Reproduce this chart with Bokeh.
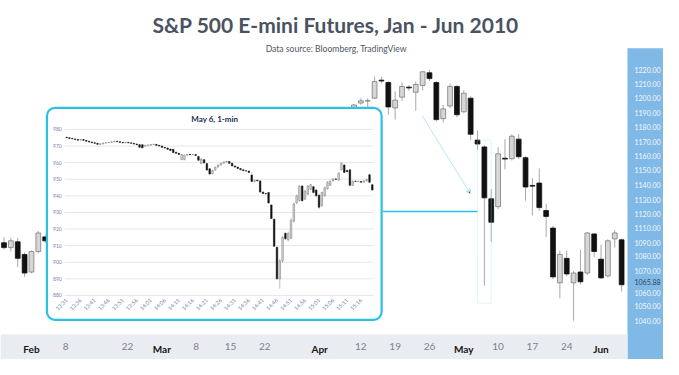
import math
import numpy as np
from bokeh.plotting import figure
from bokeh.models import (Range1d, LinearAxis, FixedTicker, BoxAnnotation, Arrow,
                          VeeHead, Label, ColumnDataSource)
from bokeh.embed import file_html
from bokeh.resources import INLINE

# ---------------- data: daily S&P 500 E-mini candles ----------------
dates = ["2010-01-26", "2010-01-27", "2010-01-28", "2010-01-29", "2010-02-01", "2010-02-02",
         "2010-02-03",
         "2010-04-09", "2010-04-12", "2010-04-13", "2010-04-14", "2010-04-15", "2010-04-16",
         "2010-04-19", "2010-04-20", "2010-04-21", "2010-04-22", "2010-04-23", "2010-04-26",
         "2010-04-27", "2010-04-28", "2010-04-29", "2010-04-30", "2010-05-03", "2010-05-04",
         "2010-05-05", "2010-05-06", "2010-05-07", "2010-05-10", "2010-05-11", "2010-05-12",
         "2010-05-13", "2010-05-14", "2010-05-17", "2010-05-18", "2010-05-19", "2010-05-20",
         "2010-05-21", "2010-05-24", "2010-05-25", "2010-05-26", "2010-05-27", "2010-05-28",
         "2010-06-01", "2010-06-02", "2010-06-03", "2010-06-04"]
opens = [1096.0, 1092.5, 1096.7, 1087.6, 1075.0, 1089.7, 1100.2,
         1192.7, 1196.2, 1197.6, 1199.7, 1212.6, 1210.9,
         1192.7, 1200.4, 1207.6, 1203.9, 1208.8, 1217.9,
         1210.9, 1185.0, 1194.1, 1208.1, 1189.9, 1199.7,
         1169.6, 1164.7, 1127.5, 1121.9, 1156.6, 1156.3,
         1170.3, 1157.0, 1137.1, 1138.8, 1119.1, 1106.5,
         1067.3, 1084.8, 1067.3, 1075.0, 1074.3, 1102.3,
         1084.2, 1072.2, 1098.8, 1098.1]
highs = [1100.0, 1099.5, 1099.5, 1089.0, 1090.4, 1104.4, 1101.5,
         1195.5, 1199.7, 1199.7, 1215.1, 1215.1, 1212.0,
         1204.6, 1210.9, 1209.0, 1211.6, 1219.3, 1220.0,
         1212.0, 1194.8, 1210.2, 1209.0, 1205.3, 1201.0,
         1176.6, 1166.0, 1134.5, 1164.7, 1170.3, 1173.8,
         1173.8, 1158.0, 1142.3, 1149.3, 1124.0, 1108.0,
         1090.4, 1090.4, 1075.7, 1091.1, 1103.7, 1103.0,
         1094.6, 1098.5, 1105.1, 1099.0]
lows = [1091.0, 1089.7, 1078.5, 1071.5, 1074.0, 1088.3, 1096.0,
        1190.0, 1195.0, 1192.7, 1199.0, 1210.2, 1187.8,
        1184.3, 1197.6, 1205.0, 1190.6, 1205.3, 1212.0,
        1183.0, 1182.2, 1192.7, 1186.0, 1189.2, 1169.6,
        1162.6, 1065.2, 1096.7, 1120.0, 1148.6, 1155.0,
        1156.0, 1126.1, 1115.6, 1119.0, 1100.2, 1070.0,
        1056.1, 1072.0, 1040.0, 1066.0, 1073.0, 1085.5,
        1070.0, 1071.0, 1092.5, 1061.0]
closes = [1092.5, 1097.4, 1084.8, 1074.3, 1089.7, 1103.0, 1097.4,
          1194.8, 1197.8, 1197.9, 1211.6, 1212.0, 1193.4,
          1198.3, 1208.1, 1207.0, 1209.5, 1218.6, 1213.7,
          1184.3, 1192.0, 1208.1, 1187.8, 1203.2, 1173.8,
          1166.8, 1128.2, 1110.7, 1159.8, 1156.0, 1172.4,
          1157.7, 1136.0, 1136.6, 1121.2, 1114.9, 1071.5,
          1087.6, 1073.6, 1074.3, 1068.0, 1103.0, 1089.7,
          1070.8, 1097.4, 1103.0, 1065.88]
holidays = ["2010-02-15", "2010-04-02", "2010-05-31"]

month_tick_dates = ["2010-02-01", "2010-03-01", "2010-04-01", "2010-05-03", "2010-06-01"]
month_tick_labels = ["Feb", "Mar", "Apr", "May", "Jun"]
day_tick_dates = ["2010-02-08", "2010-02-22", "2010-03-08", "2010-03-15", "2010-03-22",
                  "2010-04-12", "2010-04-19", "2010-04-26", "2010-05-10", "2010-05-17",
                  "2010-05-24"]
day_tick_labels = ["8", "22", "8", "15", "22", "12", "19", "26", "10", "17", "24"]

price_tick_labels = ["1220.00", "1210.00", "1200.00", "1190.00", "1180.00", "1170.00",
                     "1160.00", "1150.00", "1140.00", "1130.00", "1120.00", "1110.00",
                     "1090.00", "1080.00", "1070.00", "1060.00", "1050.00", "1040.00"]
last_price_label = "1065.88"

# ---------------- data: May 6, 1-minute candles (inset) ----------------
inset_open = [975.3, 975.0, 974.6, 974.3, 973.9, 973.6, 973.9, 973.4, 972.9, 972.4,
              972.0, 971.6, 971.0, 971.3, 971.8, 972.0, 972.2, 972.5, 972.9, 972.6,
              972.2, 971.9, 972.2, 971.9, 971.6, 971.2, 970.8, 970.8, 969.9, 970.4,
              970.5, 970.9, 971.0, 970.4, 970.0, 969.2, 968.8, 968.2, 968.0, 966.3,
              965.6, 961.8, 961.8, 964.5, 965.0, 964.8, 964.9, 963.7, 959.4, 961.8,
              959.4, 956.3, 953.3, 955.5, 957.3, 958.6, 959.6, 960.4, 960.6, 959.6,
              958.0, 957.3, 956.5, 955.7, 955.1, 954.9, 952.5, 948.6, 949.4, 949.0,
              942.3, 941.4, 942.0, 934.5, 925.9, 909.0, 890.0, 900.8, 917.4, 913.5,
              914.5, 924.7, 935.7, 937.1, 945.9, 938.0, 941.0, 943.9, 945.5, 943.5,
              940.4, 934.1, 940.0, 944.3, 946.3, 949.0, 950.2, 949.4, 955.7, 958.6,
              955.3, 955.7, 946.3, 948.8, 948.6, 948.6, 948.2, 949.0, 952.7, 946.7]
inset_high = [975.5, 975.2, 974.8, 974.5, 974.1, 974.1, 974.1, 973.6, 973.1, 972.6,
              972.2, 971.8, 971.5, 972.0, 972.2, 972.4, 972.7, 973.1, 973.1, 972.8,
              972.4, 972.4, 972.4, 972.1, 971.8, 971.4, 971.0, 971.0, 970.6, 970.8,
              971.1, 971.3, 971.2, 970.6, 970.2, 969.4, 969.0, 968.4, 968.2, 966.5,
              965.8, 965.1, 964.7, 965.2, 965.2, 965.1, 965.1, 963.9, 962.4, 962.0,
              959.6, 956.5, 955.6, 957.5, 958.8, 959.8, 960.6, 961.0, 960.8, 959.8,
              958.2, 957.5, 956.7, 955.9, 955.3, 955.1, 954.0, 949.8, 949.6, 949.2,
              942.5, 941.8, 942.2, 934.8, 926.2, 909.3, 902.0, 916.0, 918.0, 918.5,
              926.5, 936.0, 940.8, 946.5, 946.5, 943.5, 946.5, 947.2, 946.0, 944.0,
              941.0, 942.5, 945.5, 948.8, 949.3, 950.6, 950.5, 954.2, 960.4, 959.0,
              955.7, 956.0, 949.2, 949.1, 949.1, 948.9, 949.3, 950.2, 953.2, 947.0]
inset_low = [974.8, 974.4, 974.1, 973.7, 973.3, 973.4, 973.2, 972.7, 972.2, 971.8,
             971.4, 970.8, 970.8, 971.1, 971.6, 971.8, 972.0, 972.3, 972.4, 972.0,
             971.7, 971.7, 971.7, 971.4, 971.0, 970.6, 969.0, 968.7, 969.7, 970.2,
             970.3, 970.7, 970.2, 969.8, 969.0, 968.6, 967.8, 967.1, 965.9, 965.4,
             964.7, 961.5, 961.5, 964.3, 964.6, 964.6, 964.1, 961.2, 959.1, 959.6,
             955.2, 952.8, 953.0, 955.3, 957.1, 958.4, 959.4, 960.2, 959.4, 957.8,
             957.1, 956.3, 955.5, 954.9, 954.7, 953.9, 948.4, 948.2, 948.8, 942.0,
             941.0, 940.8, 935.4, 926.0, 909.3, 889.5, 884.1, 899.5, 913.5, 912.5,
             913.8, 924.0, 935.0, 936.5, 936.5, 937.5, 940.5, 943.5, 941.5, 939.5,
             932.0, 933.5, 939.5, 943.8, 946.0, 948.7, 949.6, 949.0, 955.3, 953.7,
             954.2, 946.0, 946.0, 948.3, 948.3, 947.9, 947.9, 948.7, 947.9, 943.2]
inset_close = [975.0, 974.6, 974.3, 973.9, 973.5, 973.9, 973.4, 972.9, 972.4, 972.0,
               971.6, 971.0, 971.3, 971.8, 972.0, 972.2, 972.5, 972.9, 972.6, 972.2,
               971.9, 972.2, 971.9, 971.6, 971.2, 970.8, 969.2, 968.9, 970.4, 970.6,
               970.9, 971.1, 970.4, 970.0, 969.2, 968.8, 968.0, 967.3, 966.1, 965.6,
               964.9, 964.9, 964.5, 965.0, 964.8, 964.9, 964.3, 961.4, 962.2, 959.8,
               955.5, 953.1, 955.3, 957.3, 958.6, 959.6, 960.4, 960.8, 959.6, 958.0,
               957.3, 956.5, 955.7, 955.1, 954.9, 954.1, 948.6, 949.4, 949.0, 942.3,
               941.4, 941.2, 935.7, 926.3, 909.6, 890.0, 900.8, 914.9, 914.1, 917.4,
               925.3, 935.1, 940.0, 945.9, 937.1, 942.9, 945.9, 946.7, 942.0, 940.0,
               933.1, 942.0, 944.9, 948.2, 948.8, 950.2, 950.0, 953.7, 959.6, 954.1,
               954.5, 946.3, 948.8, 948.6, 948.8, 948.2, 949.0, 949.8, 948.2, 943.5]
inset_price_ticks = [880, 890, 900, 910, 920, 930, 940, 950, 960, 970, 980]
inset_time_labels = ["13:31", "13:36", "13:41", "13:46", "13:51", "13:56", "14:01", "14:06",
                     "14:11", "14:16", "14:21", "14:26", "14:31", "14:36", "14:41", "14:46",
                     "14:51", "14:56", "15:01", "15:06", "15:11", "15:16"]

# ---------------- layout (pixels of the reference picture) ----------------
W, H = 663, 359
SX, SY = 627.0 / 635.0, 334.0 / 342.0     # squeeze the 679x375 design into 663x359
X0_PX, PX_PER_DAY = 358.0, 6.95          # x of 2010-04-09, px per trading day
Y_REF_PX, Y_REF_PRICE, PX_PER_PT = 71.0, 1220.0, 257.0 / 180.0
IX0_PX, IPX_PER_MIN = 67.0, 2.84          # inset
IY_REF_PX, IY_REF_PRICE, IPX_PER_PT = 132.0, 980.0, 1.7
price_tick_px = [71, 85, 100, 114.7, 130, 144.7, 159, 174, 189, 204, 219, 233,
                 248, 262, 277, 299, 313, 328]

def fx(px):
    return (px - X0_PX) / PX_PER_DAY

def fy(py):
    return Y_REF_PRICE - (py - Y_REF_PX) / PX_PER_PT

def ifx(px):
    return (px - IX0_PX) / IPX_PER_MIN

def ify(py):
    return IY_REF_PRICE - (py - IY_REF_PX) / IPX_PER_PT

FONT = "Lato"
BLUE = "#80b8e6"
CYAN = "#2cc1e3"

def tday(d):
    return int(np.busday_count("2010-04-09", d, holidays=holidays))

p = figure(width=W, height=H, output_backend="svg", toolbar_location=None,
           x_range=Range1d(fx(0), fx(W / SX)), y_range=Range1d(fy(H / SY), fy(0)),
           x_axis_type=None, y_axis_type=None, min_border=0, title=None)
p.min_border_left = p.min_border_right = p.min_border_top = p.min_border_bottom = 0
p.outline_line_color = None
p.background_fill_color = "white"
p.border_fill_color = "white"
p.extra_x_ranges = {"inset": Range1d(ifx(0), ifx(W / SX))}
p.extra_y_ranges = {"inset": Range1d(ify(H / SY), ify(0))}

# bands
p.add_layout(BoxAnnotation(left=fx(635), top=fy(49), fill_color=BLUE, fill_alpha=1,
                           line_color=None, level="underlay"))
p.add_layout(BoxAnnotation(right=fx(635), top=fy(342), fill_color="#e9ecf1", fill_alpha=1,
                           line_color=None, level="underlay"))

# main candles
x = [tday(d) for d in dates]
src = dict(x=x, o=opens, h=highs, l=lows, c=closes)
up = [i for i in range(len(x)) if closes[i] >= opens[i]]
dn = [i for i in range(len(x)) if closes[i] < opens[i]]
def sub(ix):
    return ColumnDataSource({k: [v[i] for i in ix] for k, v in src.items()})
p.segment(x0="x", y0="h", x1="x", y1="l", source=ColumnDataSource(src),
          line_color="#a8a8a8", line_width=1)
p.vbar(x="x", width=0.7, bottom="o", top="c", source=sub(up),
       fill_color="#d6d6d6", line_color="#7d7d7d", line_width=0.8)
p.vbar(x="x", width=0.7, bottom="c", top="o", source=sub(dn),
       fill_color="#111111", line_color="#111111", line_width=0.8)

# connector, highlight and arrow
p.add_layout(Arrow(x_start=fx(387), y_start=fy(216), x_end=fx(483), y_end=fy(216),
                   end=None, line_color=CYAN, line_width=1.5))
p.add_layout(BoxAnnotation(left=fx(483), right=fx(497), top=fy(143), bottom=fy(310),
                           fill_alpha=0, line_color="#a6e2f2", line_width=1.2))
p.add_layout(Arrow(x_start=fx(427), y_start=fy(118), x_end=fx(476), y_end=fy(198),
                   line_color="#b5e8f5", line_width=1,
                   end=VeeHead(size=5, line_color="#b5e8f5", line_width=1)))

# inset panel
p.quad(left=[fx(47)], right=[fx(386)], top=[fy(110)], bottom=[fy(327)],
       fill_color="white", line_color=CYAN, line_width=2.2, border_radius=8)
n = len(inset_open)
ix = list(range(n))
p.segment(x0=[ifx(65)] * len(inset_price_ticks), x1=[ifx(378)] * len(inset_price_ticks),
          y0=inset_price_ticks, y1=inset_price_ticks, x_range_name="inset",
          y_range_name="inset", line_color="#e6e6e6", line_width=1)
isrc = dict(x=ix, o=inset_open, h=inset_high, l=inset_low, c=inset_close)
iup = [i for i in ix if inset_close[i] >= inset_open[i]]
idn = [i for i in ix if inset_close[i] < inset_open[i]]
def isub(sel):
    return ColumnDataSource({k: [v[i] for i in sel] for k, v in isrc.items()})
p.segment(x0="x", y0="h", x1="x", y1="l", source=ColumnDataSource(isrc),
          x_range_name="inset", y_range_name="inset", line_color="#a0a0a0", line_width=0.7)
p.vbar(x="x", width=0.55, bottom="o", top="c", source=isub(iup), x_range_name="inset",
       y_range_name="inset", fill_color="#dadada", line_color="#777777", line_width=0.5)
p.vbar(x="x", width=0.55, bottom="c", top="o", source=isub(idn), x_range_name="inset",
       y_range_name="inset", fill_color="#111111", line_color="#111111", line_width=0.5)

def style_axis(ax, size, color, weight="normal", standoff=4):
    ax.axis_line_color = None
    ax.major_tick_line_color = None
    ax.minor_tick_line_color = None
    ax.major_tick_out = 0
    ax.major_tick_in = 0
    ax.minor_tick_out = 0
    ax.major_label_text_font = FONT
    ax.major_label_text_font_size = size
    ax.major_label_text_color = color
    ax.major_label_text_font_style = weight
    ax.major_label_standoff = standoff

# inset axes
iy_ax = LinearAxis(x_range_name="inset", y_range_name="inset",
                   ticker=FixedTicker(ticks=inset_price_ticks), fixed_location=ifx(64))
style_axis(iy_ax, "5px", "#7388ad", standoff=2)
p.add_layout(iy_ax, "left")
time_ticks = list(range(0, n, 5))[:len(inset_time_labels)]
ix_ax = LinearAxis(x_range_name="inset", y_range_name="inset",
                   ticker=FixedTicker(ticks=time_ticks), fixed_location=ify(305),
                   major_label_overrides={t: s for t, s in zip(time_ticks, inset_time_labels)},
                   major_label_orientation=math.pi / 4)
style_axis(ix_ax, "5.5px", "#7388ad", standoff=1)
p.add_layout(ix_ax, "below")
p.add_layout(Label(x=ifx(217), y=ify(121), x_range_name="inset", y_range_name="inset",
                   text="May 6, 1-min", text_align="center", text_baseline="middle",
                   text_font=FONT, text_font_size="8px", text_font_style="bold",
                   text_color="#1d2b4f"))

# main price axis (right, in blue band)
price_ticks = [round(fy(v), 3) for v in price_tick_px]
y_ax = LinearAxis(ticker=FixedTicker(ticks=price_ticks), fixed_location=fx(636),
                  major_label_overrides={t: s for t, s in zip(price_ticks, price_tick_labels)})
style_axis(y_ax, "7px", "#f4f8fc", standoff=6)
p.add_layout(y_ax, "right")
p.add_layout(Label(x=fx(636), y=closes[-1], x_offset=6, y_offset=3, text=last_price_label,
                   text_align="left", text_baseline="middle", text_font=FONT,
                   text_font_size="7px", text_color="#34475e"))

# main date axes (in gray band)
mt = [tday(d) for d in month_tick_dates]
dt = [tday(d) for d in day_tick_dates]
m_ax = LinearAxis(ticker=FixedTicker(ticks=mt), fixed_location=fy(342),
                  major_label_overrides={t: s for t, s in zip(mt, month_tick_labels)})
style_axis(m_ax, "10px", "#161616", weight="bold", standoff=8)
p.add_layout(m_ax, "below")
d_ax = LinearAxis(ticker=FixedTicker(ticks=dt), fixed_location=fy(342),
                  major_label_overrides={t: s for t, s in zip(dt, day_tick_labels)})
style_axis(d_ax, "10px", "#7b828d", standoff=8)
p.add_layout(d_ax, "below")

# titles
p.add_layout(Label(x=fx(340), y=fy(25), text="S&P 500 E-mini Futures, Jan - Jun 2010",
                   text_align="center", text_baseline="middle", text_font=FONT,
                   text_font_size="21px", text_font_style="bold", text_color="#4b5261"))
p.add_layout(Label(x=fx(340), y=fy(50), text="Data source: Bloomberg, TradingView",
                   text_align="center", text_baseline="middle", text_font=FONT,
                   text_font_size="8.6px", text_color="#50565f"))

open("out.html", "w").write(file_html(p, INLINE))
